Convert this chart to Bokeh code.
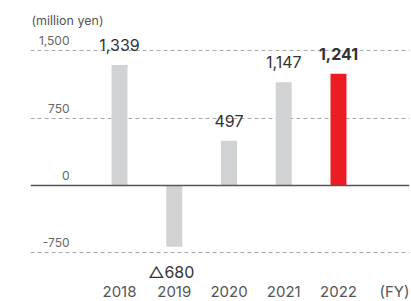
from bokeh.plotting import figure
from bokeh.models import Range1d, Span, Grid, FixedTicker, ColumnDataSource
from bokeh.core.properties import value
from bokeh.embed import file_html
from bokeh.resources import INLINE

# ---- data ----
years = [2018, 2019, 2020, 2021, 2022]
profit = [1339, -680, 497, 1147, 1241]
value_labels = ["1,339", "\u25b3680", "497", "1,147", "1,241"]
tick_values = [1500, 750, 0, -750]
tick_labels = ["1,500", "750", "0", "-750"]
year_labels = ["2018", "2019", "2020", "2021", "2022"]
unit_label = "(million yen)"
axis_suffix = "(FY)"

# ---- style ----
FONT = "Inter"
GRAY = "#d1d2d4"
RED = "#ec1c24"
bar_colors = [GRAY, GRAY, GRAY, GRAY, RED]
label_styles = ["normal", "normal", "normal", "normal", "bold"]
label_offsets = [-20 if v >= 0 else 25 for v in profit]
label_xoffsets = [0 if v >= 0 else -3 for v in profit]

p = figure(width=410, height=301, output_backend="svg", toolbar_location=None,
           x_range=Range1d(2016.3744, 2023.2968), y_range=Range1d(-1288.9, 2055.6),
           x_axis_location=None, y_axis_location=None,
           min_border_left=30, min_border_right=1, min_border_top=0, min_border_bottom=0,
           outline_line_color=None, background_fill_color="white", border_fill_color="white")

# remove default grids
p.xgrid.visible = False
p.ygrid.visible = False

grid_ticks = [t for t in tick_values if t != 0]
p.add_layout(Grid(dimension=1, ticker=FixedTicker(ticks=grid_ticks),
                  grid_line_color="#a8a8a8", grid_line_dash="4 3", grid_line_width=1))

src = ColumnDataSource(dict(year=years, value=profit, color=bar_colors, label=value_labels,
                            style=label_styles, off=label_offsets, xoff=label_xoffsets,
                            ylab=year_labels))

p.vbar(x="year", top="value", bottom=0, width=0.292, fill_color="color", line_color=None, source=src)

p.add_layout(Span(location=0, dimension="width", line_color="#555555", line_width=1.6))

# value labels
p.text(x="year", y="value", text="label", y_offset="off", x_offset="xoff", text_align="center",
       text_baseline="middle", text_font=value(FONT), text_font_size="16px",
       text_font_style="style", text_color="#333333", source=src)

# year labels
p.text(x="year", y=p.y_range.start, text="ylab", y_offset=-10, text_align="center",
       text_baseline="middle", text_font=value(FONT), text_font_size="15px",
       text_color="#555555", source=src)

# FY suffix
p.text(x=[p.x_range.end], y=[p.y_range.start], text=[axis_suffix], y_offset=-10, x_offset=0,
       text_align="right", text_baseline="middle", text_font=value(FONT),
       text_font_size="15px", text_color="#555555")

# y tick labels
p.text(x=[p.x_range.start] * len(tick_values), y=tick_values, text=tick_labels,
       x_offset=39, y_offset=-10, text_align="right", text_baseline="middle",
       text_font=value(FONT), text_font_size="12px", text_color="#666666")

# unit label
p.text(x=[p.x_range.start], y=[p.y_range.end], text=[unit_label], y_offset=20, x_offset=1,
       text_align="left", text_baseline="middle", text_font=value(FONT),
       text_font_size="12.5px", text_color="#555555")

open("out.html", "w").write(file_html(p, INLINE))
